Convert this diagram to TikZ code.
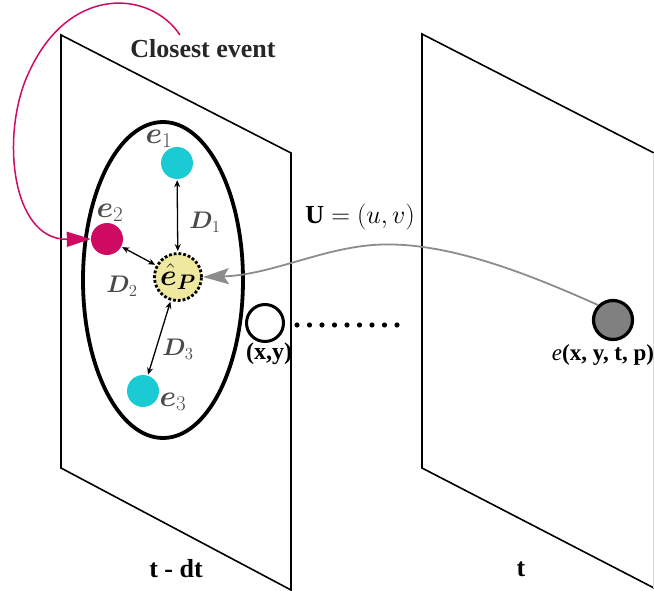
\RequirePackage{fix-cm}
\documentclass[tikz,border=0pt]{standalone}
\usepackage{amsmath,amssymb,bm}
\usepackage{fontspec}
\setmainfont{Liberation Serif}
\usepackage{xcolor}
\usetikzlibrary{arrows.meta,positioning,calc,shapes.geometric}
\definecolor{evcyan}{HTML}{1BCBD4}
\definecolor{evmag}{HTML}{CF0A62}
\definecolor{evyel}{HTML}{EFE8A0}
\definecolor{lblgray}{HTML}{4A4A4A}
\newcommand{\fs}[1]{\fontsize{#1}{#1}\selectfont}

\begin{document}
\begin{tikzpicture}[
  x=1pt, y=-1pt,
  font=\bfseries,
  plane/.style={draw, line width=1.6pt, line join=miter},
  ev/.style={circle, minimum size=32pt, inner sep=0pt},
  lbl/.style={text=lblgray, inner sep=0pt},
  dist/.style={{Stealth[length=7pt,width=6pt]}-{Stealth[length=7pt,width=6pt]},
               line width=1.3pt, shorten <=1pt, shorten >=1pt},
  flow/.style={-{Stealth[length=26pt,width=16pt,inset=5pt]}, draw=black!45,
               line width=1.8pt},
  pick/.style={-{Triangle[length=24pt,width=15pt]}, draw=evmag, line width=1.5pt},
  node distance=2pt
]
\useasboundingbox (0,0) rectangle (654,591);
% the two time planes
\draw[plane] (61,35) -- (291,153) -- (291,590) -- (61,468) -- cycle;
\draw[plane] (654,153) -- (422,34) -- (422,468) -- (654,588);
\draw[black!15, line width=1pt] (653,153) -- (653,588);
% neighbourhood on the earlier plane
\node[draw, ellipse, line width=3.8pt, minimum width=160pt, minimum height=316pt,
      inner sep=0pt] (hood) at (163,280) {};
\node[ev, fill=evcyan] (e1) at (177,163) {};
\node[ev, fill=evmag] (e2) at (107,239) {};
\node[ev, fill=evcyan] (e3) at (143,391) {};
\node[circle, draw, dotted, line width=2.8pt, fill=evyel, minimum size=47pt,
      inner sep=0pt] (ep) at (178,277) {\fs{30}$\hat{\bm{e}}_{\bm{P}}$};
\node[lbl] (l1) at ($(e1)+(-18,-24)$) {\fs{30}$\bm{e}_1$};
\node[lbl] (l2) at ($(e2)+(3,-26)$) {\fs{30}$\bm{e}_2$};
\node[lbl] (l3) at ($(e3)+(30,11)$) {\fs{30}$\bm{e}_3$};
\draw[dist] (e1) -- (ep);
\draw[dist] (e2) -- (ep);
\draw[dist] (ep) -- (e3);
\node[lbl] (d1) at (205,222) {\fs{24}$\bm{D}_1$};
\node[lbl] (d2) at (122,286) {\fs{24}$\bm{D}_2$};
\node[lbl] (d3) at (178,349) {\fs{24}$\bm{D}_3$};
% pixel position and the incoming event
\node[circle, draw, line width=3pt, minimum size=37pt, inner sep=0pt]
  (px) at (265,323) {};
\node[below=0pt of px, xshift=4pt, inner sep=0pt] (pxl) {\fs{24}(x,y)};
\foreach \i in {0,...,8}
  \fill (297+\i*12.5,325) circle (2.6pt);
\node[circle, draw, line width=3.2pt, fill=black!50, minimum size=39pt,
      inner sep=0pt] (evt) at (613,320) {};
\node[below=3pt of evt, xshift=-10pt, inner sep=0pt] (evtl)
  {\fs{23}\textnormal{\itshape e}(x, y, t, p)};
\node (flowl) at (360,217) {\fs{26}$\mathbf{U}=(u,v)$};
\draw[flow] (evt.north west) .. controls (520,270) and (440,240) .. (373,245)
  .. controls (320,249) and (270,275) .. (ep.east);
% nearest neighbour
\node[text=black!85] (closest) at (203,49) {\fs{26}Closest event};
\coordinate (cstart) at (180,35);
\draw[pick] (cstart) .. controls (150,-10) and (70,-15) .. (30,70)
  .. controls (0,130) and (10,240) .. (e2.west);
% time stamps
\node (tprev) at (176,569) {\fs{26}t - dt};
\node (tnow) at (521,569) {\fs{26}t};
\end{tikzpicture}
\end{document}
